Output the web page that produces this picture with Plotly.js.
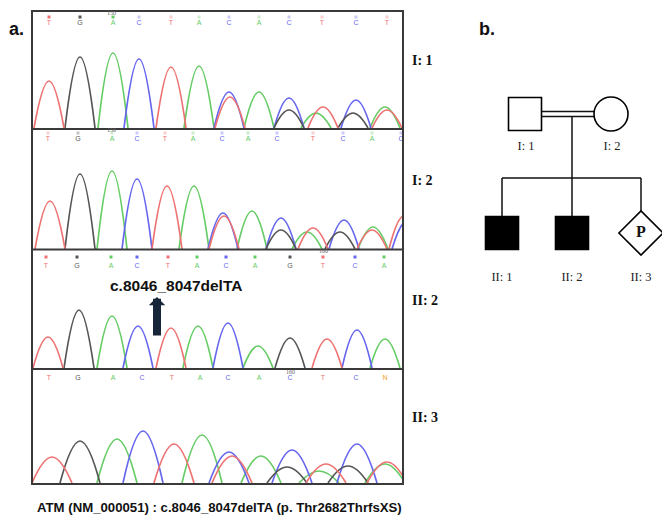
<!DOCTYPE html>
<html><head><meta charset="utf-8">
<script src="https://cdn.plot.ly/plotly-3.0.1.min.js"></script>
<style>html,body{margin:0;padding:0;background:#fff}#chart{width:662px;height:525px}</style>
</head><body><div id="chart"></div>
<script>
// ---------------- DATA ----------------
const sampleLabels = ["I: 1", "I: 2", "II: 2", "II: 3"];

// base calls (letter, scan position) per panel
const bases1 = ["T","G","A","C","T","A","C","A","C","T","C","T"];
const basePos1 = [49,80,113,139,171,199,229,259,289,322,356,387];
const bases2 = ["T","G","A","C","T","A","C","A","C","T","C","A","C"];
const basePos2 = [48,78,112,137,165,193,222,248,277,313,343,372,401];
const bases3 = ["T","G","A","C","T","A","C","A","G","T","C","A"];
const basePos3 = [46,77,111,137,168,197,226,255,290,323,355,384];
const bases4 = ["T","G","A","C","T","A","C","A","C","T","C","N"];
const basePos4 = [49,78,113,142,172,200,228,259,290,323,356,385];

// sequence position tick labels
const seqTickText = ["150","150","160","160"];
const seqTickPos = [111,111,323,290];

// peaks: channel, scan position, height
const peakCh1  = ["T","G","A","C","T","A","C","T","A","C","G","A","T","C","G","A","T"];
const peakPos1 = [49,80,113,139,171,199,229,230,259,289,289,316,323,356,353,385,387];
const peakH1   = [47,71,75,69,61,62,36,31,36,30,18,15,21,28,15,21,18];

const peakCh2  = ["T","G","A","C","T","A","C","T","A","C","G","A","T","C","G","A","T","T","C"];
const peakPos2 = [50,80,112,137,167,194,223,224,252,281,281,307,313,344,340,373,372,404,407];
const peakH2   = [48,75,78,70,63,63,36,33,38,31,19,17,21,29,17,22,19,33,28];

const peakCh3  = ["T","G","A","C","T","A","C","A","G","T","C","A"];
const peakPos3 = [48,79,112,138,171,198,228,258,290,327,357,385];
const peakH3   = [31,58,52,42,40,42,45,22,30,29,38,29];

const peakCh4  = ["T","G","A","C","T","A","C","T","A","C","G","A","T","C","G","T","A"];
const peakPos4 = [52,80,117,143,174,202,229,232,261,292,287,319,326,357,348,387,385];
const peakH4   = [26,42,44,52,39,48,31,27,27,33,16,12,19,39,17,21,19];

const mutationLabel = "c.8046_8047delTA";
const mutationPos = 157;
const footnote = "ATM (NM_000051) : c.8046_8047delTA (p. Thr2682ThrfsXS)";

// pedigree
const pedIds      = ["I: 1","I: 2","II: 1","II: 2","II: 3"];
const pedGen      = [1,1,2,2,2];
const pedSex      = ["M","F","M","M","U"];
const pedAffected = [false,false,true,true,false];
const pedMark     = ["","","","","P"];

// ---------------- LAYOUT CONSTANTS ----------------
const W = 662, H = 525;
const plotL = 32, plotR = 403;
const panelTop  = [11,130,250,370];
const panelBase = [128,249,368,483];
const halfWidth = [15,15,15,20];
const chColor = {A:"#66cc66", C:"#6666ee", G:"#555555", T:"#ee7272", N:"#f0a020"};
const letterY = [105,110,102,105];
const squareY = [111,116,111,null];
const tickY   = [115,119,117,111];
const pedX = [525,611,502,572,641];
const genY = {1:114, 2:233};

const panels = [
  {ch:peakCh1,pos:peakPos1,h:peakH1,b:bases1,bp:basePos1},
  {ch:peakCh2,pos:peakPos2,h:peakH2,b:bases2,bp:basePos2},
  {ch:peakCh3,pos:peakPos3,h:peakH3,b:bases3,bp:basePos3},
  {ch:peakCh4,pos:peakPos4,h:peakH4,b:bases4,bp:basePos4}
];

const traces = [];
const layout = {
  width: W, height: H,
  margin: {l:0,r:0,t:0,b:0},
  paper_bgcolor: "#fff", plot_bgcolor: "rgba(0,0,0,0)",
  showlegend: false,
  shapes: [], annotations: []
};
const hid = {visible:false, fixedrange:true};

panels.forEach((p, i) => {
  const n = i + 1;
  const xa = "x" + n, ya = "y" + n;
  layout["xaxis" + n] = Object.assign({}, hid, {domain:[plotL/W, plotR/W], range:[plotL, plotR], anchor: ya});
  layout["yaxis" + n] = Object.assign({}, hid, {domain:[1 - panelBase[i]/H, 1 - panelTop[i]/H], range:[0, panelBase[i]-panelTop[i]], anchor: xa});
  ["A","C","G","T"].forEach(c => {
    const xs = [], ys = [];
    p.ch.forEach((ch, k) => {
      if (ch !== c) return;
      const w = halfWidth[i];
      xs.push(p.pos[k]-w, p.pos[k], p.pos[k]+w, null);
      ys.push(0, p.h[k], 0, null);
    });
    traces.push({type:"scatter", mode:"lines", x:xs, y:ys, xaxis:xa, yaxis:ya,
      line:{color:chColor[c], width:1.7, shape:"spline", smoothing:1.3}, connectgaps:false, hoverinfo:"skip"});
  });
  // base call letters
  traces.push({type:"scatter", mode:"text", x:p.bp, y:p.bp.map(()=>letterY[i]), text:p.b,
    xaxis:xa, yaxis:ya, cliponaxis:false,
    textfont:{family:"Liberation Sans, Arial", size:7, color:p.b.map(b=>chColor[b])}, hoverinfo:"skip"});
  if (squareY[i] !== null) {
    traces.push({type:"scatter", mode:"markers", x:p.bp, y:p.bp.map(()=>squareY[i]),
      xaxis:xa, yaxis:ya, cliponaxis:false,
      marker:{symbol:"square", size:3, color:p.b.map(b=>chColor[b]),
        opacity: i===0 ? p.b.map((b,k)=>k<3?1:0.35) : (i===1 ? 0.35 : 1)}, hoverinfo:"skip"});
  }
  layout.annotations.push({xref:xa, yref:ya, x:seqTickPos[i], y:tickY[i], text:seqTickText[i],
    showarrow:false, font:{family:"Liberation Serif", size:6, color:"#666"}});
  // sample label
  layout.annotations.push({xref:"paper", yref:"paper", x:410/W, y:1 - ((panelTop[i]+panelBase[i])/2 - 9)/H,
    xanchor:"left", yanchor:"middle", text:"<b>"+sampleLabels[i]+"</b>", showarrow:false,
    font:{family:"Liberation Serif, Times New Roman", size:14, color:"#111"}});
});

// mutation annotation on panel 3
layout.annotations.push({xref:"x3", yref:"y3", x:176, y:83, text:"<b>"+mutationLabel+"</b>", showarrow:false,
  font:{family:"Liberation Sans, Arial", size:15.5, color:"#111"}});
layout.annotations.push({xref:"x3", yref:"y3", x:mutationPos, y:71, axref:"x3", ayref:"y3", ax:mutationPos, ay:31,
  text:"", showarrow:true, arrowhead:1, arrowsize:0.34, arrowwidth:8, arrowcolor:"#172538", standoff:0});

// frame of chromatogram block
const fy = v => 1 - v/H;
layout.shapes.push({type:"rect", xref:"paper", yref:"paper", x0:plotL/W, x1:plotR/W, y0:fy(484), y1:fy(11),
  line:{color:"#3a3a3a", width:2}});
[129,249.5,369].forEach(v => layout.shapes.push({type:"line", xref:"paper", yref:"paper",
  x0:plotL/W, x1:plotR/W, y0:fy(v), y1:fy(v), line:{color:"#3a3a3a", width:2}}));

// panel letters and footnote
layout.annotations.push({xref:"paper", yref:"paper", x:7/W, y:fy(29), xanchor:"left", yanchor:"middle",
  text:"<b>a.</b>", showarrow:false, font:{family:"Liberation Sans, Arial", size:18, color:"#111"}});
layout.annotations.push({xref:"paper", yref:"paper", x:477/W, y:fy(29), xanchor:"left", yanchor:"middle",
  text:"<b>b.</b>", showarrow:false, font:{family:"Liberation Sans, Arial", size:18, color:"#111"}});
layout.annotations.push({xref:"paper", yref:"paper", x:35/W, y:fy(507), xanchor:"left", yanchor:"middle",
  text:"<b>"+footnote+"</b>", showarrow:false, font:{family:"Liberation Sans, Arial", size:13.2, color:"#111"}});

// ---------------- PEDIGREE ----------------
layout.xaxis5 = Object.assign({}, hid, {domain:[0,1], range:[0,W], anchor:"y5"});
layout.yaxis5 = Object.assign({}, hid, {domain:[0,1], range:[H,0], anchor:"x5"});
const px = pedX, py = pedGen.map(g=>genY[g]);
const half = pedSex.map(s => s==="U" ? 22 : 17);
const pl = (xs, ys) => traces.push({type:"scatter", mode:"lines", x:xs, y:ys, xaxis:"x5", yaxis:"y5",
  line:{color:"#111", width:1.5}, hoverinfo:"skip"});
const parents = pedGen.map((g,k)=>g===1?k:-1).filter(k=>k>=0);
const kids = pedGen.map((g,k)=>g===2?k:-1).filter(k=>k>=0);
const pa = parents[0], pb = parents[1];
pl([px[pa]+half[pa], px[pb]-half[pb]], [py[pa]-2.5, py[pb]-2.5]);
pl([px[pa]+half[pa], px[pb]-half[pb]], [py[pa]+2.5, py[pb]+2.5]);
const descX = px[kids[1]];
const sibY = 178;
pl([descX, descX], [py[pa]+2.5, sibY]);
pl([Math.min(...kids.map(k=>px[k])), Math.max(...kids.map(k=>px[k]))], [sibY, sibY]);
kids.forEach(k => pl([px[k], px[k]], [sibY, py[k]-half[k]]));
const sym = {M:"square", F:"circle", U:"diamond"};
traces.push({type:"scatter", mode:"markers", x:px, y:py, xaxis:"x5", yaxis:"y5", cliponaxis:false,
  marker:{symbol:pedSex.map(s=>sym[s]), size:pedSex.map(s=>s==="U"?34:(s==="F"?34:33)), opacity:1,
    color:pedAffected.map(a=>a?"#000000":"#ffffff"), line:{color:"#000", width:1.6}}, hoverinfo:"skip"});
traces.push({type:"scatter", mode:"text", x:px, y:py, xaxis:"x5", yaxis:"y5", cliponaxis:false,
  text:pedMark.map(m=>m?"<b>"+m+"</b>":""), textposition:"middle center",
  textfont:{family:"Liberation Serif", size:16, color:"#111"}, hoverinfo:"skip"});
traces.push({type:"scatter", mode:"text", x:px.map((x,k)=>x+(pedGen[k]===1?1:0)), y:py.map((y,k)=>y+(pedGen[k]===1?33:45)),
  text:pedIds, xaxis:"x5", yaxis:"y5", cliponaxis:false,
  textfont:{family:"Liberation Serif, Times New Roman", size:12.5, color:"#222"}, hoverinfo:"skip"});

Plotly.newPlot("chart", traces, layout, {staticPlot:true, displayModeBar:false});
</script></body></html>
